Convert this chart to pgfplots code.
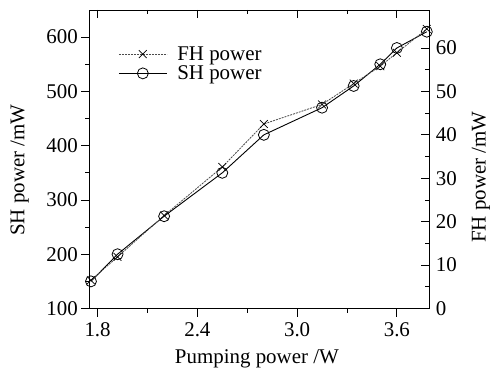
\documentclass[border=0pt]{standalone}
\usepackage{fontspec}
\setmainfont{Liberation Serif}
\usepackage{pgfplots}
\pgfplotsset{compat=1.18}
\begin{document}
\begin{tikzpicture}
\pgfplotsset{
  common/.style={
    scale only axis, width=340bp, height=298.5bp,
    xmin=1.75, xmax=3.795,
    xtick={1.8,2.4,3.0,3.6}, minor x tick num=1,
    axis line style={line width=0.8bp},
    every tick/.style={black, line width=0.8bp},
    major tick length=8bp, minor tick length=4bp,
    tick label style={font=\fontsize{21}{21}\selectfont},
    xticklabel style={yshift=-3bp},
    /pgf/number format/assume math mode=true,
  }
}
% left axis: SH power
\begin{axis}[common,
  ymin=100, ymax=650,
  ytick={100,200,300,400,500,600}, minor y tick num=1,
  xtick pos=lower, ytick pos=left, tick align=outside,
  xticklabels={1.8,2.4,3.0,3.6},
  xlabel={Pumping power /W},
  ylabel={SH power /mW},
  every axis x label/.style={at={(axis description cs:0.493,-0.168)}, anchor=center, font=\fontsize{21}{21}\selectfont},
  every axis y label/.style={at={(axis description cs:-0.205,0.464)}, rotate=90, anchor=center, font=\fontsize{21}{21}\selectfont},
]
\addplot[black, line width=0.9bp, mark=o, mark size=5.5bp, mark options={solid, fill=white, line width=0.8bp}]
coordinates {(1.76,150) (1.92,200) (2.2,270) (2.55,350) (2.8,420) (3.15,470) (3.34,510) (3.5,550) (3.6,580) (3.78,610)};
\end{axis}
% right axis: FH power
\begin{axis}[common,
  ymin=0, ymax=68.75,
  ytick={0,10,20,30,40,50,60}, minor y tick num=1,
  xtick pos=upper, xticklabels={},
  ytick pos=right, yticklabel pos=right, tick align=inside,
  yticklabel style={xshift=3bp},
  ylabel={FH power /mW},
  every axis y label/.style={at={(axis description cs:1.152,0.44)}, rotate=90, anchor=center, font=\fontsize{21}{21}\selectfont},
  legend style={draw=none, fill=none, at={(axis description cs:0.085,0.885)}, anchor=north west,
    font=\fontsize{21}{21}\selectfont, row sep=0bp, inner sep=0bp},
  legend cell align=left,
  legend image code/.code={\draw[mark repeat=2, mark phase=2, #1] plot coordinates {(0bp,0bp) (24bp,0bp) (48bp,0bp)}; \path (56bp,0bp);},
]
\addplot[black!70, line width=0.8bp, dash pattern=on 2bp off 1bp, mark=x, mark size=5.5bp, mark options={solid, black, line width=0.7bp}]
coordinates {(1.76,6.5) (1.92,11.9) (2.2,21.4) (2.55,32.6) (2.8,42.5) (3.15,47) (3.34,51.8) (3.5,55.8) (3.6,58.9) (3.78,64.4)};
\addlegendentry{FH power}
\addlegendimage{black, line width=0.9bp, mark=o, mark size=5.5bp, mark options={solid, fill=white, line width=0.8bp}}
\addlegendentry{SH power}
\end{axis}
\pgfresetboundingbox
\path ([shift={(-89.3bp,-67.5bp)}]current axis.south west) rectangle ([shift={(62.7bp,10bp)}]current axis.north east);
\end{tikzpicture}
\end{document}
